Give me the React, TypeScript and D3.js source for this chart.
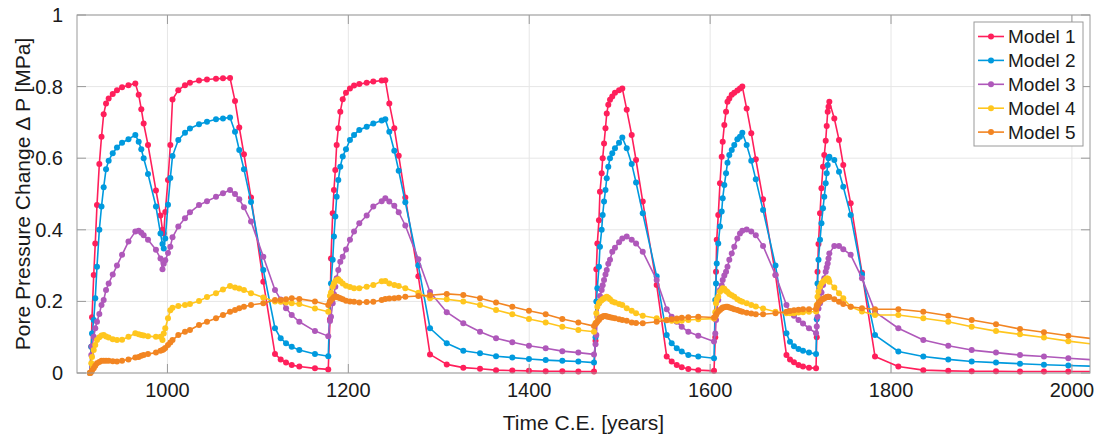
import React from 'react';
import * as d3 from 'd3';

// Shared simulation output times (years C.E.)
const years = [
  914.4, 915.8, 916.6, 918.5, 920.2, 922.1, 924.7, 927.1, 929.5, 932.1, 935.0, 939.5, 944.2, 949.8, 956.9, 964.5,
  968.2, 971.1, 973.7, 978.5, 987.3, 992.3, 994.5, 995.9, 997.6, 1000.6, 1003.2, 1005.6, 1012.0, 1019.4, 1024.9,
  1034.9, 1043.7, 1053.7, 1061.4, 1069.2, 1074.7, 1079.4, 1084.6, 1092.4, 1106.0, 1118.9, 1125.2, 1131.1, 1137.4,
  1145.8, 1163.1, 1177.8,
  1179.7, 1180.8, 1182.7, 1184.1, 1185.6, 1187.1, 1188.9, 1191.1, 1193.8, 1197.4, 1201.8, 1206.3, 1212.1, 1220.3,
  1227.6, 1236.9, 1240.9, 1245.3, 1250.8, 1255.7, 1263.0, 1277.4, 1290.3, 1308.8, 1327.1, 1345.6, 1363.3, 1381.3,
  1399.7, 1418.2, 1436.6, 1454.3, 1471.6,
  1473.3, 1474.2, 1475.3, 1477.1, 1478.2, 1480.1, 1481.2, 1482.7, 1484.3, 1485.7, 1487.4, 1489.3, 1491.8, 1494.8,
  1499.3, 1502.9, 1507.8, 1513.3, 1518.1, 1525.5, 1540.9, 1552.0, 1557.5, 1563.1, 1568.6, 1575.9, 1586.9, 1604.3,
  1605.7, 1606.5, 1607.3, 1609.0, 1610.9, 1612.8, 1613.9, 1615.7, 1617.6, 1619.2, 1621.2, 1623.9, 1626.7, 1630.1,
  1633.0, 1635.6, 1640.4, 1645.5, 1650.5, 1658.5, 1672.3, 1684.4, 1688.3, 1692.7, 1697.7, 1702.7, 1709.3, 1717.1,
  1717.9, 1718.7, 1719.8, 1721.5, 1723.1, 1724.8, 1726.2, 1727.8, 1728.9, 1730.0, 1730.9, 1731.8, 1737.3, 1742.5,
  1747.2, 1755.4, 1767.9, 1782.3, 1808.1, 1835.7, 1863.3, 1889.2, 1916.1, 1942.6, 1969.1, 1996.0, 2022.9,
];

const model1 = [
  0, 0.073, 0.156, 0.274, 0.362, 0.469, 0.584, 0.66, 0.723, 0.753, 0.767, 0.779, 0.79, 0.798, 0.804, 0.809,
  0.777, 0.737, 0.697, 0.637, 0.51, 0.44, 0.40, 0.39, 0.45, 0.539, 0.637, 0.764, 0.79, 0.804, 0.811,
  0.817, 0.82, 0.822, 0.823, 0.824, 0.76, 0.686, 0.611, 0.49, 0.255, 0.053, 0.038, 0.029, 0.022,
  0.018, 0.013, 0.01,
  0.15, 0.32, 0.446, 0.511, 0.567, 0.637, 0.684, 0.73, 0.765, 0.783, 0.795, 0.803, 0.807, 0.811,
  0.814, 0.817, 0.818, 0.753, 0.684, 0.607, 0.49, 0.27, 0.052, 0.024, 0.015, 0.012, 0.008, 0.007,
  0.006, 0.005, 0.005, 0.004, 0.004,
  0.09, 0.29, 0.362, 0.427, 0.506, 0.558, 0.6, 0.641, 0.684, 0.725, 0.749, 0.763, 0.772, 0.783,
  0.79, 0.795, 0.735, 0.665, 0.595, 0.479, 0.246, 0.046, 0.032, 0.022, 0.016, 0.011, 0.008, 0.006,
  0.1, 0.283, 0.372, 0.441, 0.53, 0.604, 0.646, 0.693, 0.73, 0.758, 0.767, 0.777, 0.783, 0.789,
  0.795, 0.8, 0.739, 0.67, 0.597, 0.485, 0.274, 0.05, 0.038, 0.03, 0.022, 0.018, 0.015, 0.013,
  0.1, 0.283, 0.36, 0.446, 0.516, 0.576, 0.609, 0.649, 0.69, 0.73, 0.744, 0.758, 0.711, 0.651,
  0.581, 0.474, 0.28, 0.046, 0.018, 0.008, 0.006, 0.005, 0.005, 0.004, 0.004, 0.004, 0.004,
];

const model2 = [
  0, 0.073, 0.11, 0.148, 0.209, 0.297, 0.4, 0.465, 0.519, 0.569, 0.593, 0.614, 0.63, 0.643, 0.653, 0.665,
  0.646, 0.625, 0.6, 0.556, 0.465, 0.39, 0.36, 0.348, 0.376, 0.47, 0.545, 0.606, 0.651, 0.671, 0.683,
  0.695, 0.702, 0.709, 0.711, 0.714, 0.674, 0.623, 0.569, 0.478, 0.288, 0.125, 0.097, 0.083, 0.073,
  0.064, 0.053, 0.047,
  0.2, 0.25, 0.316, 0.381, 0.437, 0.492, 0.539, 0.576, 0.605, 0.625, 0.651, 0.665, 0.679, 0.688,
  0.697, 0.705, 0.709, 0.674, 0.621, 0.565, 0.477, 0.30, 0.125, 0.083, 0.062, 0.055, 0.047, 0.043,
  0.039, 0.036, 0.034, 0.032, 0.029,
  0.1, 0.2, 0.237, 0.297, 0.353, 0.4, 0.441, 0.479, 0.511, 0.544, 0.576, 0.6, 0.614, 0.628,
  0.643, 0.658, 0.628, 0.584, 0.532, 0.446, 0.27, 0.106, 0.083, 0.069, 0.06, 0.05, 0.046, 0.041,
  0.204, 0.25, 0.306, 0.362, 0.409, 0.451, 0.488, 0.525, 0.558, 0.587, 0.609, 0.623, 0.637, 0.653,
  0.66, 0.671, 0.637, 0.593, 0.541, 0.455, 0.3, 0.111, 0.087, 0.075, 0.067, 0.062, 0.057, 0.053,
  0.15, 0.25, 0.316, 0.372, 0.418, 0.46, 0.492, 0.53, 0.558, 0.581, 0.6, 0.604, 0.595, 0.562,
  0.52, 0.441, 0.275, 0.106, 0.06, 0.046, 0.038, 0.032, 0.029, 0.026, 0.023, 0.021, 0.019,
];

const model3 = [
  0, 0.05, 0.075, 0.101, 0.125, 0.143, 0.165, 0.19, 0.204, 0.232, 0.25, 0.275, 0.3, 0.33, 0.367, 0.395,
  0.397, 0.392, 0.385, 0.372, 0.344, 0.32, 0.29, 0.305, 0.315, 0.335, 0.353, 0.379, 0.409, 0.432, 0.449,
  0.469, 0.48, 0.492, 0.502, 0.511, 0.5, 0.485, 0.463, 0.423, 0.325, 0.232, 0.205, 0.181, 0.162,
  0.143, 0.117, 0.103,
  0.145, 0.157, 0.195, 0.22, 0.241, 0.265, 0.288, 0.311, 0.325, 0.345, 0.372, 0.395, 0.418, 0.44,
  0.465, 0.48, 0.488, 0.479, 0.467, 0.449, 0.412, 0.318, 0.226, 0.17, 0.139, 0.115, 0.097, 0.086,
  0.076, 0.069, 0.061, 0.057, 0.052,
  0.08, 0.106, 0.157, 0.195, 0.215, 0.232, 0.245, 0.26, 0.275, 0.288, 0.305, 0.316, 0.339, 0.35,
  0.365, 0.376, 0.381, 0.372, 0.362, 0.339, 0.26, 0.178, 0.157, 0.143, 0.129, 0.115, 0.104, 0.088,
  0.11, 0.148, 0.175, 0.204, 0.232, 0.245, 0.26, 0.272, 0.283, 0.297, 0.316, 0.334, 0.353, 0.376,
  0.39, 0.397, 0.401, 0.395, 0.385, 0.355, 0.274, 0.19, 0.17, 0.16, 0.148, 0.138, 0.125, 0.111,
  0.13, 0.157, 0.18, 0.195, 0.225, 0.246, 0.265, 0.283, 0.295, 0.306, 0.32, 0.334, 0.355, 0.355,
  0.346, 0.33, 0.265, 0.171, 0.125, 0.092, 0.076, 0.064, 0.057, 0.05, 0.046, 0.041, 0.037,
];

const model4 = [
  0, 0.027, 0.045, 0.064, 0.078, 0.092, 0.1, 0.105, 0.106, 0.102, 0.099, 0.094, 0.092, 0.093, 0.101, 0.111,
  0.108, 0.106, 0.105, 0.103, 0.101, 0.101, 0.092, 0.11, 0.125, 0.153, 0.175, 0.182, 0.187, 0.19, 0.193,
  0.201, 0.212, 0.223, 0.233, 0.243, 0.239, 0.236, 0.232, 0.223, 0.211, 0.2, 0.199, 0.197, 0.195,
  0.193, 0.18, 0.171,
  0.215, 0.225, 0.241, 0.25, 0.256, 0.26, 0.262, 0.256, 0.25, 0.244, 0.24, 0.237, 0.237, 0.241,
  0.246, 0.256, 0.257, 0.25, 0.246, 0.243, 0.237, 0.224, 0.209, 0.206, 0.2, 0.19, 0.176, 0.164,
  0.151, 0.141, 0.129, 0.12, 0.115,
  0.14, 0.167, 0.185, 0.195, 0.199, 0.203, 0.206, 0.208, 0.211, 0.213, 0.21, 0.206, 0.2, 0.197,
  0.193, 0.19, 0.181, 0.174, 0.167, 0.16, 0.153, 0.148, 0.146, 0.145, 0.146, 0.148, 0.15, 0.152,
  0.17, 0.195, 0.205, 0.213, 0.227, 0.232, 0.237, 0.235, 0.229, 0.226, 0.221, 0.217, 0.213, 0.206,
  0.202, 0.199, 0.195, 0.19, 0.186, 0.18, 0.171, 0.167, 0.167, 0.167, 0.169, 0.17, 0.171, 0.172,
  0.19, 0.213, 0.228, 0.241, 0.25, 0.255, 0.258, 0.262, 0.264, 0.264, 0.262, 0.255, 0.239, 0.223,
  0.209, 0.185, 0.172, 0.162, 0.162, 0.153, 0.143, 0.129, 0.117, 0.108, 0.099, 0.089, 0.081,
];

const model5 = [
  0, 0.003, 0.007, 0.013, 0.02, 0.027, 0.031, 0.034, 0.034, 0.034, 0.034, 0.033, 0.032, 0.034, 0.038, 0.043,
  0.045, 0.048, 0.05, 0.053, 0.057, 0.062, 0.064, 0.066, 0.07, 0.078, 0.085, 0.092, 0.106, 0.115, 0.12,
  0.134, 0.143, 0.153, 0.162, 0.171, 0.176, 0.181, 0.185, 0.19, 0.195, 0.204, 0.204, 0.206, 0.209,
  0.207, 0.2, 0.19,
  0.2, 0.204, 0.208, 0.212, 0.214, 0.213, 0.211, 0.209, 0.206, 0.202, 0.2, 0.199, 0.197, 0.198,
  0.199, 0.204, 0.207, 0.208, 0.209, 0.21, 0.213, 0.215, 0.217, 0.221, 0.218, 0.209, 0.197, 0.185,
  0.174, 0.164, 0.151, 0.141, 0.131,
  0.137, 0.14, 0.143, 0.148, 0.153, 0.156, 0.158, 0.159, 0.159, 0.158, 0.157, 0.156, 0.154, 0.153,
  0.15, 0.148, 0.146, 0.141, 0.14, 0.139, 0.143, 0.147, 0.15, 0.152, 0.154, 0.156, 0.157, 0.155,
  0.157, 0.162, 0.166, 0.172, 0.176, 0.18, 0.183, 0.184, 0.185, 0.185, 0.183, 0.181, 0.178, 0.176,
  0.173, 0.171, 0.168, 0.166, 0.164, 0.164, 0.167, 0.171, 0.173, 0.175, 0.177, 0.178, 0.178, 0.179,
  0.185, 0.19, 0.195, 0.2, 0.204, 0.207, 0.209, 0.211, 0.212, 0.213, 0.213, 0.212, 0.206, 0.199,
  0.193, 0.185, 0.181, 0.178, 0.178, 0.171, 0.16, 0.148, 0.136, 0.123, 0.114, 0.104, 0.096,
];

const seriesNames = ['Model 1', 'Model 2', 'Model 3', 'Model 4', 'Model 5'];
const seriesColors = ['#FF1F5B', '#009ADE', '#AF58BA', '#FFC61E', '#F28522'];
const xTickValues = [1000, 1200, 1400, 1600, 1800, 2000];
const yTickValues = [0, 0.2, 0.4, 0.6, 0.8, 1];
const xLabel = 'Time C.E. [years]';
const yLabel = 'Pore Pressure Change \u0394 P [MPa]';

const W = 1101;
const H = 440;
const plot = { left: 77, right: 1090, top: 15, bottom: 373 };
const FONT = '"Liberation Sans", Arial, Helvetica, sans-serif';
const AXIS_COLOR = '#9a9a9a';
const GRID_COLOR = '#e6e6e6';
const TEXT_COLOR = '#1a1a1a';

export default function App() {
  const x = d3.scaleLinear().domain([900, 2020]).range([plot.left, plot.right]);
  const y = d3.scaleLinear().domain([0, 1]).range([plot.bottom, plot.top]);
  const series = [model1, model2, model3, model4, model5];
  const line = d3
    .line<number>()
    .x((_, i) => x(years[i]))
    .y((d) => y(d));
  const tickLen = 9;
  const [d0, d1] = x.domain();
  const markerR = 3;

  const legend = { x: 974, y: 22, w: 109, h: 124, row: 23.9, first: 14.5 };

  return (
    <svg
      width={W}
      height={H}
      style={{ position: 'absolute', left: 0, top: 0, background: '#fff' }}
      fontFamily={FONT}
    >
      <rect x={0} y={0} width={W} height={H} fill="#fff" />
      <defs>
        <clipPath id="plotClip">
          <rect x={plot.left} y={plot.top - 5} width={plot.right - plot.left} height={plot.bottom - plot.top + 10} />
        </clipPath>
      </defs>

      {/* grid */}
      <g>
        {xTickValues.map((t) => (
          <line key={'gx' + t} x1={x(t)} x2={x(t)} y1={plot.top} y2={plot.bottom} stroke={GRID_COLOR} strokeWidth={1} />
        ))}
        {yTickValues.map((t) => (
          <line key={'gy' + t} x1={plot.left} x2={plot.right} y1={y(t)} y2={y(t)} stroke={GRID_COLOR} strokeWidth={1} />
        ))}
      </g>

      {/* series */}
      <g clipPath="url(#plotClip)">
        {series.map((s, k) => (
          <g key={seriesNames[k]}>
            <path d={line(s) || ''} fill="none" stroke={seriesColors[k]} strokeWidth={1.6} strokeLinejoin="round" />
            {s.map((v, i) =>
              years[i] >= d0 && years[i] <= d1 ? (
                <circle key={i} cx={x(years[i])} cy={y(v)} r={markerR} fill={seriesColors[k]} />
              ) : null
            )}
          </g>
        ))}
      </g>

      {/* axes box and ticks */}
      <rect
        x={plot.left}
        y={plot.top}
        width={plot.right - plot.left}
        height={plot.bottom - plot.top}
        fill="none"
        stroke={AXIS_COLOR}
        strokeWidth={1}
      />
      {xTickValues.map((t) => (
        <g key={'tx' + t}>
          <line x1={x(t)} x2={x(t)} y1={plot.bottom} y2={plot.bottom - tickLen} stroke={AXIS_COLOR} />
          <line x1={x(t)} x2={x(t)} y1={plot.top} y2={plot.top + tickLen} stroke={AXIS_COLOR} />
          <text x={x(t)} y={plot.bottom + 24} textAnchor="middle" fontSize={20} fill={TEXT_COLOR}>
            {d3.format('d')(t)}
          </text>
        </g>
      ))}
      {yTickValues.map((t) => (
        <g key={'ty' + t}>
          <line x1={plot.left} x2={plot.left + tickLen} y1={y(t)} y2={y(t)} stroke={AXIS_COLOR} />
          <line x1={plot.right} x2={plot.right - tickLen} y1={y(t)} y2={y(t)} stroke={AXIS_COLOR} />
          <text x={plot.left - 14} y={y(t) + 7} textAnchor="end" fontSize={20} fill={TEXT_COLOR}>
            {d3.format('~g')(t)}
          </text>
        </g>
      ))}

      {/* axis labels */}
      <text x={(plot.left + plot.right) / 2} y={430} textAnchor="middle" fontSize={21} fill={TEXT_COLOR}>
        {xLabel}
      </text>
      <text
        transform={`translate(30, ${(plot.top + plot.bottom) / 2}) rotate(-90)`}
        textAnchor="middle"
        fontSize={21}
        fill={TEXT_COLOR}
      >
        {yLabel}
      </text>

      {/* legend */}
      <g>
        <rect x={legend.x} y={legend.y} width={legend.w} height={legend.h} fill="#fff" stroke={AXIS_COLOR} strokeWidth={1} />
        {seriesNames.map((name, k) => {
          const cy = legend.y + legend.first + k * legend.row;
          return (
            <g key={'lg' + name}>
              <line x1={legend.x + 4} x2={legend.x + 30} y1={cy} y2={cy} stroke={seriesColors[k]} strokeWidth={1.6} />
              <circle cx={legend.x + 17} cy={cy} r={markerR} fill={seriesColors[k]} />
              <text x={legend.x + 34} y={cy + 6.5} fontSize={19} fill={TEXT_COLOR}>
                {name}
              </text>
            </g>
          );
        })}
      </g>
    </svg>
  );
}
